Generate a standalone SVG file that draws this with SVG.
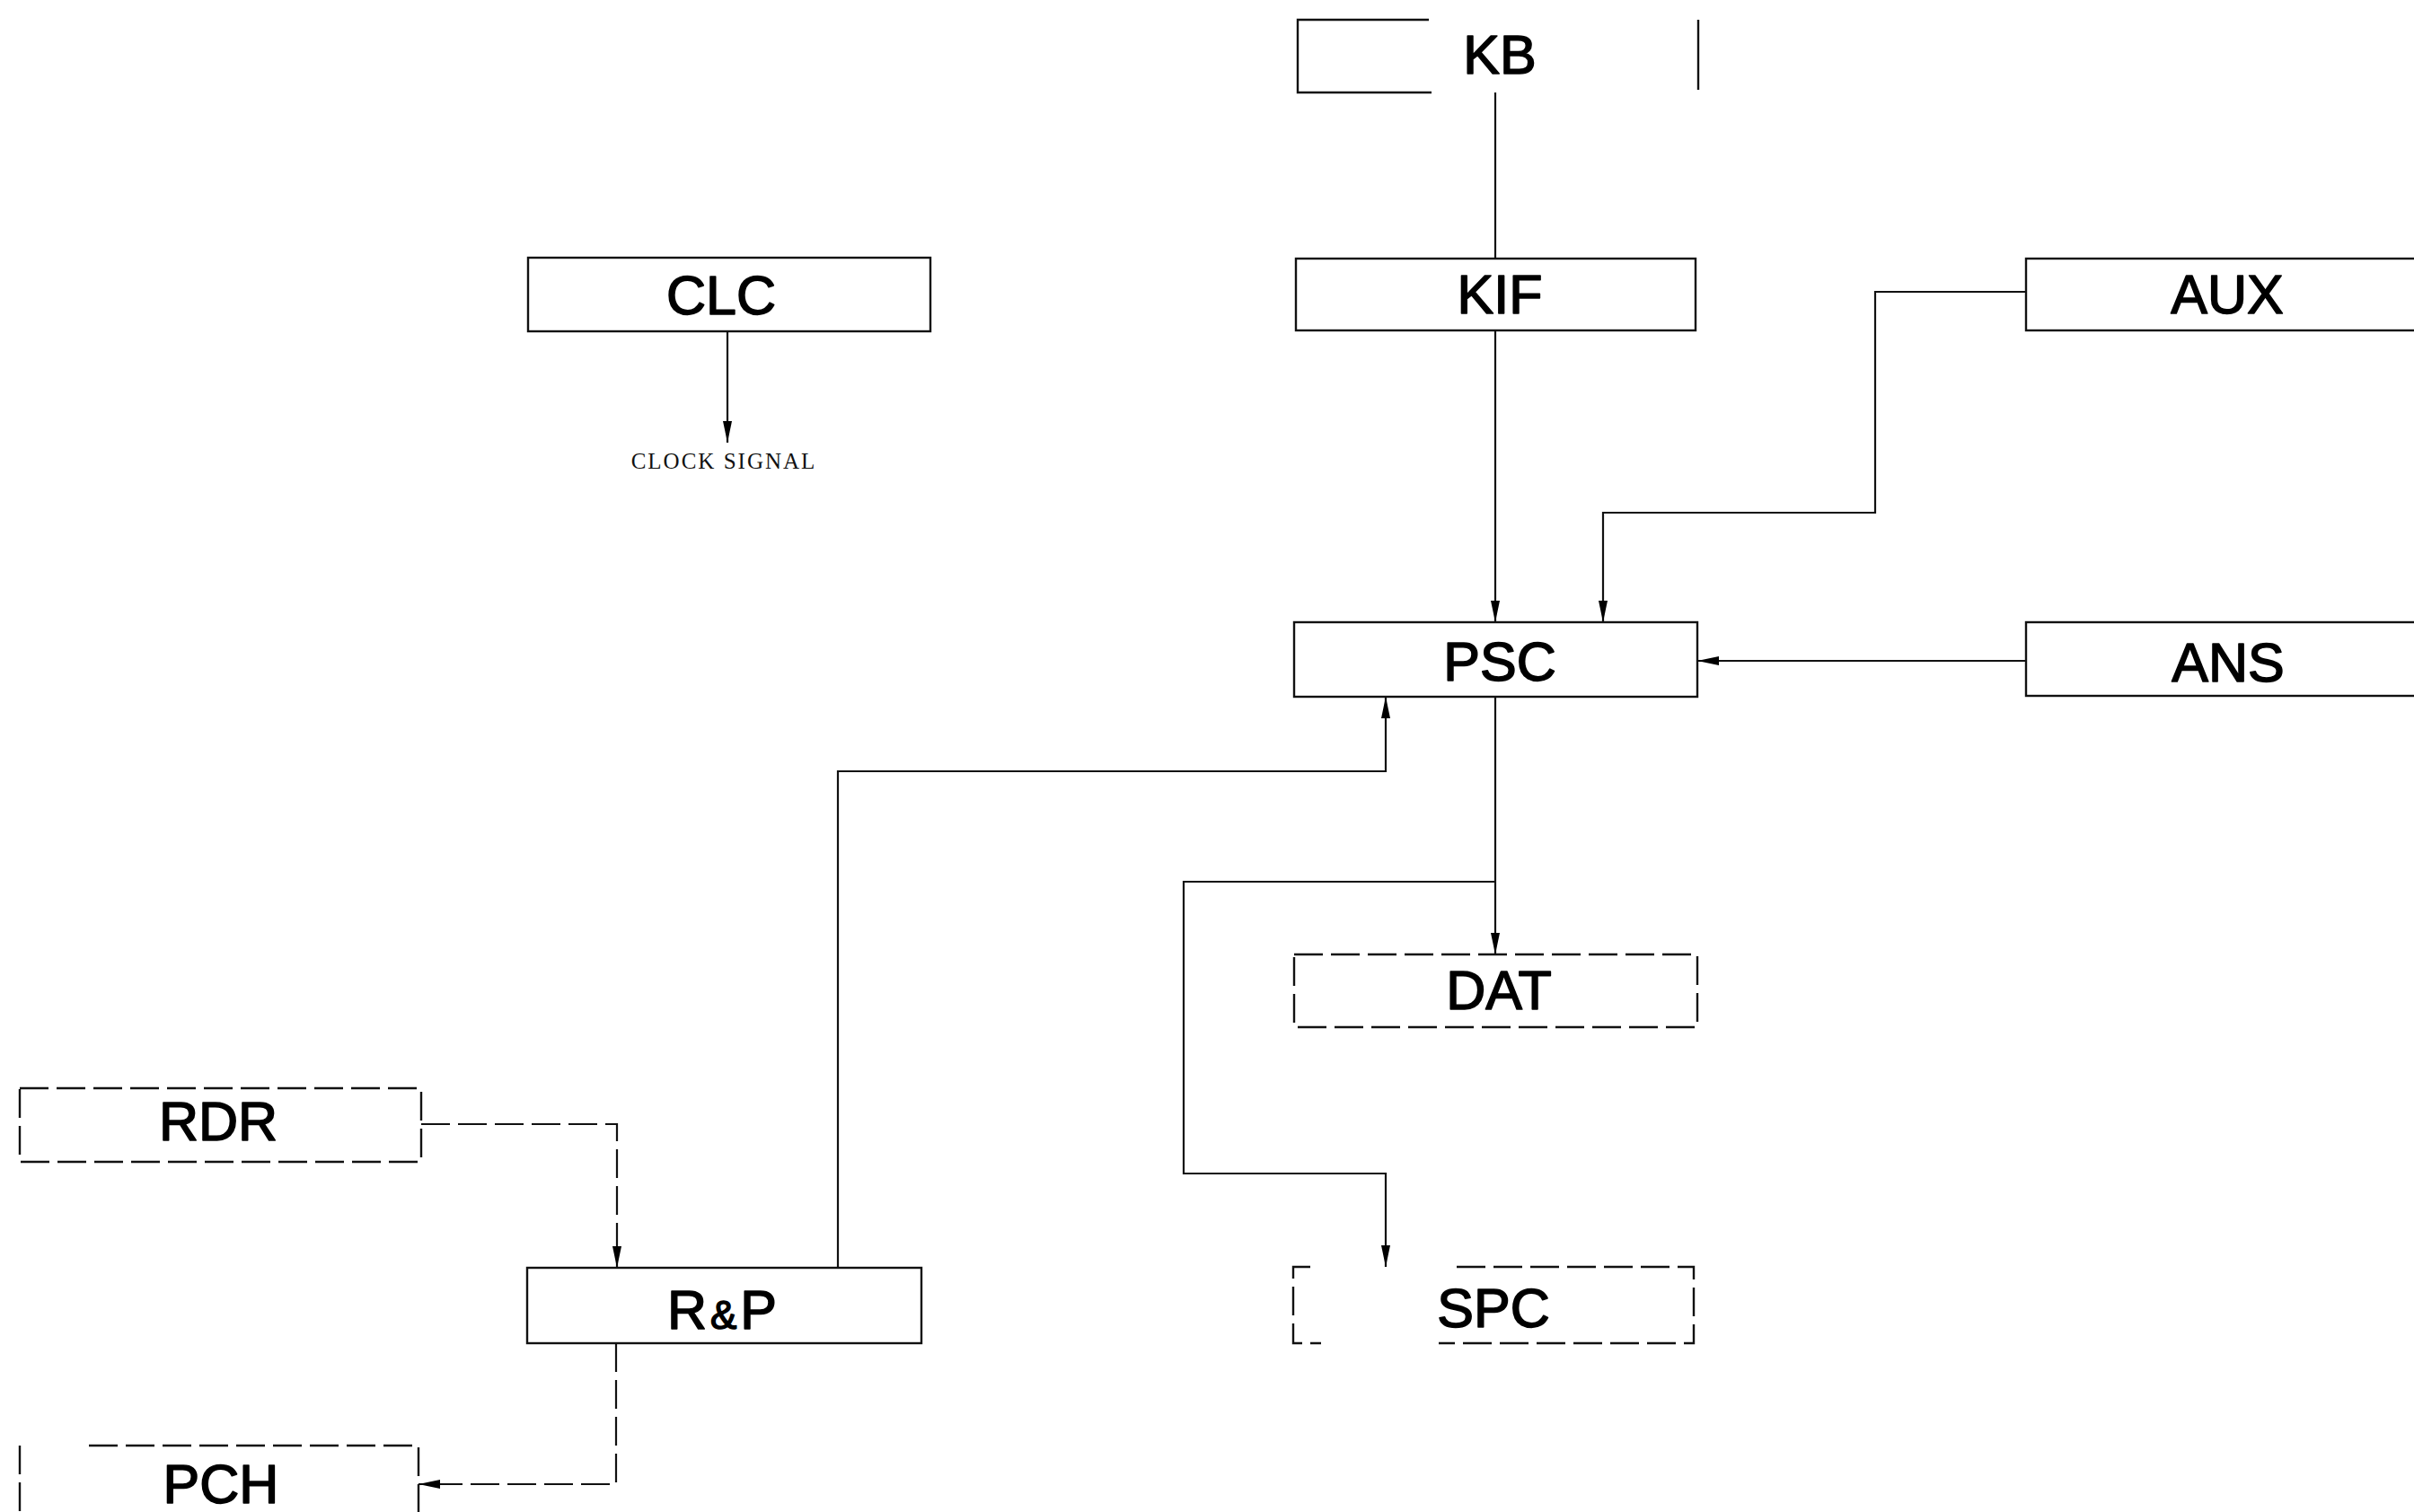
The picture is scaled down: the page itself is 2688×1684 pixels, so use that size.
<svg xmlns="http://www.w3.org/2000/svg" width="2688" height="1684" viewBox="0 0 2688 1684">
<style>
.box{fill:none;stroke:#111;stroke-width:2.4}
.dash{fill:none;stroke:#111;stroke-width:2.4;stroke-dasharray:32 9}
.ln{fill:none;stroke:#111;stroke-width:2.2}
.dl{fill:none;stroke:#111;stroke-width:2.2;stroke-dasharray:32 9}
.lbl{font-family:"Liberation Sans","DejaVu Sans",sans-serif;font-size:61px;fill:#000;stroke:#000;stroke-width:1.6;stroke-linejoin:round;text-anchor:middle}
.sm{font-family:"Liberation Serif","DejaVu Serif",serif;font-size:25px;fill:#111;letter-spacing:2px;text-anchor:middle}
</style>
<defs>
<marker id="ah" markerUnits="userSpaceOnUse" markerWidth="24" markerHeight="10" viewBox="0 0 24 10" refX="24" refY="5" orient="auto">
<path d="M0,0 L24,5 L0,10 Z" fill="#000" stroke="none"/>
</marker>
</defs>
<rect width="2688" height="1684" fill="#fff"/>
<g id="connectors">
<path class="ln" d="M1665,103 V288"/>
<path class="ln" d="M1665,368 V693" marker-end="url(#ah)"/>
<path class="ln" d="M810,369 V493" marker-end="url(#ah)"/>
<path class="ln" d="M2256,325 H2088 V571 H1785 V693" marker-end="url(#ah)"/>
<path class="ln" d="M2256,736 H1890" marker-end="url(#ah)"/>
<path class="ln" d="M1665,776 V1063" marker-end="url(#ah)"/>
<path class="ln" d="M1665,982 H1318 V1307 H1543 V1411" marker-end="url(#ah)"/>
<path class="ln" d="M933,1412 V859 H1543 V776" marker-end="url(#ah)"/>
<path class="dl" d="M469,1252 H687 V1412" marker-end="url(#ah)"/>
<path class="dl" d="M686,1496 V1653 H466" marker-end="url(#ah)"/>
</g>
<g id="KB">
<path class="box" d="M1591,22 H1445 V103 H1594"/>
<path class="box" d="M1891,22 V100"/>
<text class="lbl" x="1670" y="82">KB</text>
</g>
<g id="KIF">
<rect class="box" x="1443" y="288" width="445" height="80"/>
<text class="lbl" x="1670" y="349">KIF</text>
</g>
<g id="CLC">
<rect class="box" x="588" y="287" width="448" height="82"/>
<text class="lbl" x="803" y="350">CLC</text>
<text class="sm" x="806" y="522">CLOCK SIGNAL</text>
</g>
<g id="AUX">
<rect class="box" x="2256" y="288" width="460" height="80"/>
<text class="lbl" x="2480" y="349">AUX</text>
</g>
<g id="PSC">
<rect class="box" x="1441" y="693" width="449" height="83"/>
<text class="lbl" x="1670" y="758">PSC</text>
</g>
<g id="ANS">
<rect class="box" x="2256" y="693" width="460" height="82"/>
<text class="lbl" x="2481" y="759">ANS</text>
</g>
<g id="DAT">
<rect class="dash" x="1441" y="1063" width="449" height="81"/>
<text class="lbl" x="1669" y="1124">DAT</text>
</g>
<g id="SPC">
<path class="dash" d="M1459,1411 H1440 V1496 H1471"/>
<path class="dash" d="M1622,1411 H1886 V1496 H1602"/>
<text class="lbl" x="1663" y="1478">SPC</text>
</g>
<g id="RDR">
<rect class="dash" x="22" y="1212" width="447" height="82"/>
<text class="lbl" x="243" y="1270">RDR</text>
</g>
<g id="RP">
<rect class="box" x="587" y="1412" width="439" height="84"/>
<text class="lbl" x="804" y="1480">R<tspan font-size="44" dx="4">&amp;</tspan><tspan dx="4">P</tspan></text>
</g>
<g id="PCH">
<path class="dash" d="M22,1610 V1690"/>
<path class="dash" d="M99,1610 H466 V1690"/>
<text class="lbl" x="246" y="1674">PCH</text>
</g>
</svg>
